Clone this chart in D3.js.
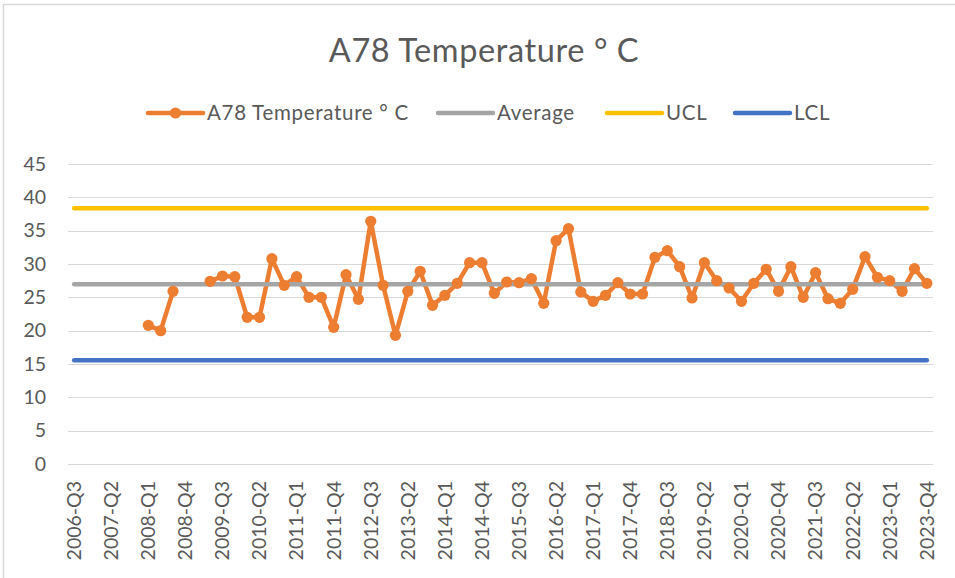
<!DOCTYPE html>
<html>
<head>
<meta charset="utf-8">
<script src="https://cdn.jsdelivr.net/npm/d3@7"></script>
<style>
  html, body { margin: 0; padding: 0; background: #fff; }
  svg { display: block; }
  text { font-family: Lato, "Open Sans", sans-serif; fill: #595959; }
</style>
</head>
<body>
<svg id="chart" width="955" height="578"></svg>
<script>
// ---- Data ----
const chartTitle = "A78 Temperature ° C";
const seriesNames = ["A78 Temperature ° C", "Average", "UCL", "LCL"];
const seriesColors = ["#ED7D31", "#A5A5A5", "#FFC000", "#4472C4"];

// Quarter categories 2006-Q3 .. 2023-Q4
const quarters = [];
for (let y = 2006; y <= 2023; y++) {
  for (let q = 1; q <= 4; q++) {
    if (y === 2006 && q < 3) continue;
    quarters.push(y + "-Q" + q);
  }
}

const temperature = [
  null, null, null, null, null, null,      // 2006-Q3 .. 2007-Q4
  20.8, 20.0, 25.9, null, null,            // 2008-Q1 .. 2009-Q1
  27.4, 28.2, 28.1, 22.0, 22.0, 30.8, 26.8, 28.1, 25.0, 25.0,
  20.5, 28.4, 24.7, 36.4, 26.8, 19.3, 25.9, 28.9, 23.8, 25.3,
  27.1, 30.2, 30.2, 25.6, 27.3, 27.2, 27.8, 24.1, 33.5, 35.3,
  25.8, 24.4, 25.3, 27.2, 25.5, 25.5, 31.0, 32.0, 29.6, 24.9,
  30.2, 27.5, 26.4, 24.4, 27.1, 29.2, 25.9, 29.6, 25.0, 28.7,
  24.8, 24.1, 26.2, 31.1, 28.0, 27.5, 25.9, 29.3, 27.1
];
const averageValue = 26.95;
const uclValue = 38.35;
const lclValue = 15.55;

const yTicks = [0, 5, 10, 15, 20, 25, 30, 35, 40, 45];
const xTickEvery = 3;

// ---- Chart ----
const svg = d3.select("#chart");

// outer border
svg.append("rect")
  .attr("x", 3.5).attr("y", 4.5)
  .attr("width", 960).attr("height", 600)
  .attr("fill", "none").attr("stroke", "#d9d9d9").attr("stroke-width", 1.5);

const x = d3.scaleBand().domain(quarters).range([68, 933]);
const cx = d => x(d) + x.bandwidth() / 2;
const y = d3.scaleLinear().domain([0, 45]).range([464, 164]);

// gridlines
svg.append("g").selectAll("line").data(yTicks).join("line")
  .attr("x1", 68).attr("x2", 933)
  .attr("y1", d => Math.round(y(d)) + 0.5).attr("y2", d => Math.round(y(d)) + 0.5)
  .attr("stroke", "#d9d9d9").attr("stroke-width", 1.2);

// y axis labels
const yAxis = d3.axisLeft(y).tickValues(yTicks).tickSize(0).tickPadding(0);
const yg = svg.append("g").attr("transform", "translate(46,0)").call(yAxis);
yg.select(".domain").remove();
yg.selectAll("text").attr("font-size", 19.5).style("font-family", "Lato, sans-serif").attr("fill", "#595959");

// x axis labels
const xAxis = d3.axisBottom(x)
  .tickValues(quarters.filter((d, i) => i % xTickEvery === 0))
  .tickSize(0);
const xg = svg.append("g").attr("transform", "translate(0,464)").call(xAxis);
xg.select(".domain").remove();
xg.selectAll("text")
  .attr("font-size", 19.5)
  .style("font-family", "Lato, sans-serif")
  .attr("fill", "#595959")
  .attr("text-anchor", "end")
  .attr("transform", "rotate(-90)")
  .attr("x", -17).attr("y", 0).attr("dy", "0.35em");

// temperature line
const line = d3.line()
  .defined(d => d.v !== null)
  .x(d => cx(d.q)).y(d => y(d.v));
const tempData = quarters.map((q, i) => ({ q, v: temperature[i] }));

svg.append("path").datum(tempData)
  .attr("d", line)
  .attr("fill", "none").attr("stroke", seriesColors[0])
  .attr("stroke-width", 4.5).attr("stroke-linejoin", "round").attr("stroke-linecap", "round");

// constant lines
const constVals = [averageValue, uclValue, lclValue];
constVals.forEach((v, k) => {
  const data = quarters.map(q => ({ q, v }));
  svg.append("path").datum(data)
    .attr("d", line)
    .attr("fill", "none").attr("stroke", seriesColors[k + 1])
    .attr("stroke-width", 4.5).attr("stroke-linecap", "round");
});

// markers
svg.append("g").selectAll("circle").data(tempData.filter(d => d.v !== null)).join("circle")
  .attr("cx", d => cx(d.q)).attr("cy", d => y(d.v)).attr("r", 5.6)
  .attr("fill", seriesColors[0]);

// title
svg.append("text").attr("x", 484).attr("y", 62)
  .attr("text-anchor", "middle").attr("font-size", 32.5)
  .attr("letter-spacing", 0.6)
  .text(chartTitle);

// legend
const legendX = [148, 438, 607, 735];
const lg = svg.append("g");
seriesNames.forEach((name, i) => {
  const g = lg.append("g").attr("transform", `translate(${legendX[i]},113)`);
  g.append("line").attr("x1", 0).attr("x2", 55).attr("y1", 0).attr("y2", 0)
    .attr("stroke", seriesColors[i]).attr("stroke-width", 4.5).attr("stroke-linecap", "round");
  if (i === 0) g.append("circle").attr("cx", 27.5).attr("cy", 0).attr("r", 5.6).attr("fill", seriesColors[0]);
  g.append("text").attr("x", 59).attr("y", 0).attr("dy", "0.35em")
    .attr("font-size", 20.5).attr("letter-spacing", 0.7).text(name);
});
</script>
</body>
</html>
